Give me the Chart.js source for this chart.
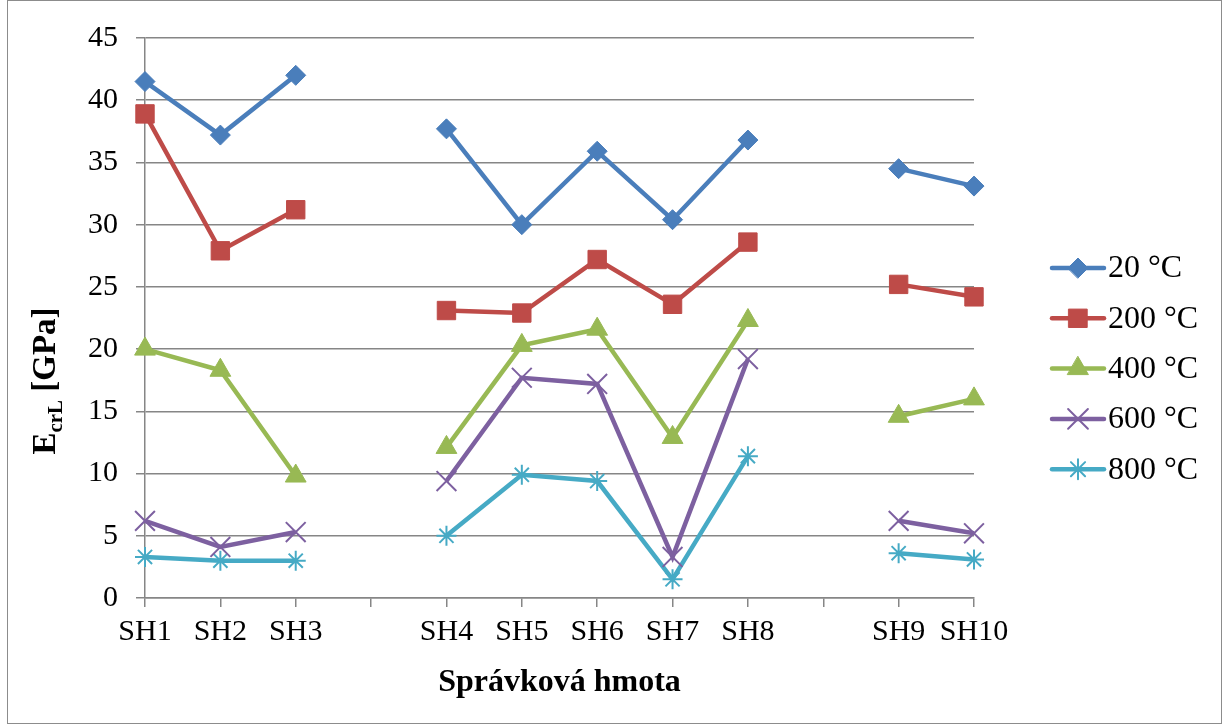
<!DOCTYPE html>
<html>
<head>
<meta charset="utf-8">
<script src="https://cdn.jsdelivr.net/npm/chart.js@4/dist/chart.umd.min.js"></script>
<style>
  html, body { margin: 0; padding: 0; background: #fff; }
  #wrap { width: 1225px; height: 726px; }
</style>
</head>
<body>
<div id="wrap"><canvas id="chart" width="1225" height="726"></canvas></div>
<script>
// categories: empty strings are the gaps between the groups
const categories = ['SH1', 'SH2', 'SH3', '', 'SH4', 'SH5', 'SH6', 'SH7', 'SH8', '', 'SH9', 'SH10'];
const yTicks = [0, 5, 10, 15, 20, 25, 30, 35, 40, 45];

const t20  = [41.5, 37.2, 42.0, null, 37.7, 30.0, 35.9, 30.4, 36.8, null, 34.5, 33.1];
const t200 = [38.9, 27.9, 31.2, null, 23.1, 22.9, 27.2, 23.6, 28.6, null, 25.2, 24.2];
const t400 = [20.0, 18.3, 9.8, null, 12.1, 20.3, 21.6, 12.9, 22.3, null, 14.6, 16.0];
const t600 = [6.2, 4.1, 5.3, null, 9.4, 17.7, 17.2, 3.3, 19.2, null, 6.2, 5.2];
const t800 = [3.3, 3.0, 3.0, null, 5.0, 9.9, 9.4, 1.5, 11.4, null, 3.6, 3.1];

const seriesLabels = ['20 °C', '200 °C', '400 °C', '600 °C', '800 °C'];

const FONT = '"Liberation Serif", "Times New Roman", serif';
const GRID = '#868686';

Chart.defaults.font.family = FONT;
Chart.defaults.color = '#000';

function series(label, data, color, style, radius, bw) {
  return {
    label, data,
    borderColor: color,
    backgroundColor: color,
    borderWidth: 4.5,
    pointStyle: style,
    pointRadius: radius,
    pointHoverRadius: radius,
    pointBorderWidth: bw,
    pointBorderColor: color,
    pointBackgroundColor: color,
    spanGaps: false,
    tension: 0,
  };
}

const datasets = [
  series(seriesLabels[0], t20, '#4A7EBB', 'rectRot', 10, 1),
  series(seriesLabels[1], t200, '#BE4B48', 'rect', 13, 1),
  series(seriesLabels[2], t400, '#98B954', 'triangle', 12, 1),
  series(seriesLabels[3], t600, '#7D60A0', 'crossRot', 14, 2),
  series(seriesLabels[4], t800, '#46AAC5', 'star', 10, 2),
];

// white background + thin frame round the whole figure
const frame = {
  id: 'frame',
  beforeDraw(chart) {
    const ctx = chart.ctx;
    ctx.save();
    ctx.fillStyle = '#fff';
    ctx.fillRect(0, 0, chart.width, chart.height);
    ctx.strokeStyle = '#8c8c8c';
    ctx.lineWidth = 1;
    ctx.strokeRect(7.5, 0.5, 1214, 723);
    ctx.restore();
  }
};

// axis titles (y title has a subscript) and the right-hand legend
const extras = {
  id: 'extras',
  afterDraw(chart) {
    const ctx = chart.ctx;
    const area = chart.chartArea;
    ctx.save();
    ctx.fillStyle = '#000';

    // x title
    ctx.font = 'bold 32px ' + FONT;
    ctx.textAlign = 'center';
    ctx.textBaseline = 'middle';
    ctx.fillText('Správková hmota', (area.left + area.right) / 2, 683);

    // y title: E_crL [GPa]
    ctx.translate(44, 381);
    ctx.rotate(-Math.PI / 2);
    const big = 'bold 33px ' + FONT;
    const small = 'bold 21px ' + FONT;
    ctx.font = big; const wE = ctx.measureText('E').width;
    const wRest = ctx.measureText(' [GPa]').width;
    ctx.font = small; const wSub = ctx.measureText('crL').width;
    let x = -(wE + wSub + wRest) / 2;
    ctx.textAlign = 'left';
    ctx.textBaseline = 'alphabetic';
    ctx.font = big; ctx.fillText('E', x, 11); x += wE;
    ctx.font = small; ctx.fillText('crL', x, 18); x += wSub;
    ctx.font = big; ctx.fillText(' [GPa]', x, 11);
    ctx.restore();

    // legend
    ctx.save();
    chart.data.datasets.forEach((ds, i) => {
      const y = 268 + i * 50.3;
      ctx.strokeStyle = ds.borderColor;
      ctx.lineWidth = 4.5;
      ctx.lineCap = 'round';
      ctx.beginPath();
      ctx.moveTo(1052, y);
      ctx.lineTo(1104, y);
      ctx.stroke();
      ctx.fillStyle = ds.backgroundColor;
      ctx.strokeStyle = ds.borderColor;
      ctx.lineWidth = ds.pointBorderWidth;
      Chart.helpers.drawPoint(ctx, {
        pointStyle: ds.pointStyle, radius: ds.pointRadius, rotation: 0, borderWidth: ds.pointBorderWidth
      }, 1078, y);
      ctx.fillStyle = '#000';
      ctx.font = '32px ' + FONT;
      ctx.textAlign = 'left';
      ctx.textBaseline = 'middle';
      ctx.fillText(ds.label, 1108, y + 1);
    });
    ctx.restore();
  }
};

new Chart(document.getElementById('chart'), {
  type: 'line',
  data: { labels: categories, datasets },
  plugins: [frame, extras],
  options: {
    responsive: false,
    animation: false,
    events: [],
    layout: { padding: { top: 38, right: 251, bottom: 0, left: 0 } },
    plugins: { legend: { display: false }, tooltip: { enabled: false } },
    scales: {
      x: {
        offset: false,
        afterFit(scale) { scale.height = 128; },
        grid: { drawOnChartArea: false, drawTicks: true, tickLength: 9, color: GRID, lineWidth: 1.5 },
        border: { color: GRID, width: 1.5 },
        ticks: { font: { size: 30 }, color: '#000', padding: 7, maxRotation: 0, autoSkip: false },
      },
      y: {
        min: 0, max: 45,
        afterFit(scale) { scale.width = 145; },
        afterBuildTicks(scale) { scale.ticks = yTicks.map(v => ({ value: v })); },
        grid: { color: GRID, lineWidth: 1.5, tickLength: 9 },
        border: { color: GRID, width: 1.5 },
        ticks: { font: { size: 30 }, color: '#000', padding: 18 },
      },
    },
  },
});
</script>
</body>
</html>
